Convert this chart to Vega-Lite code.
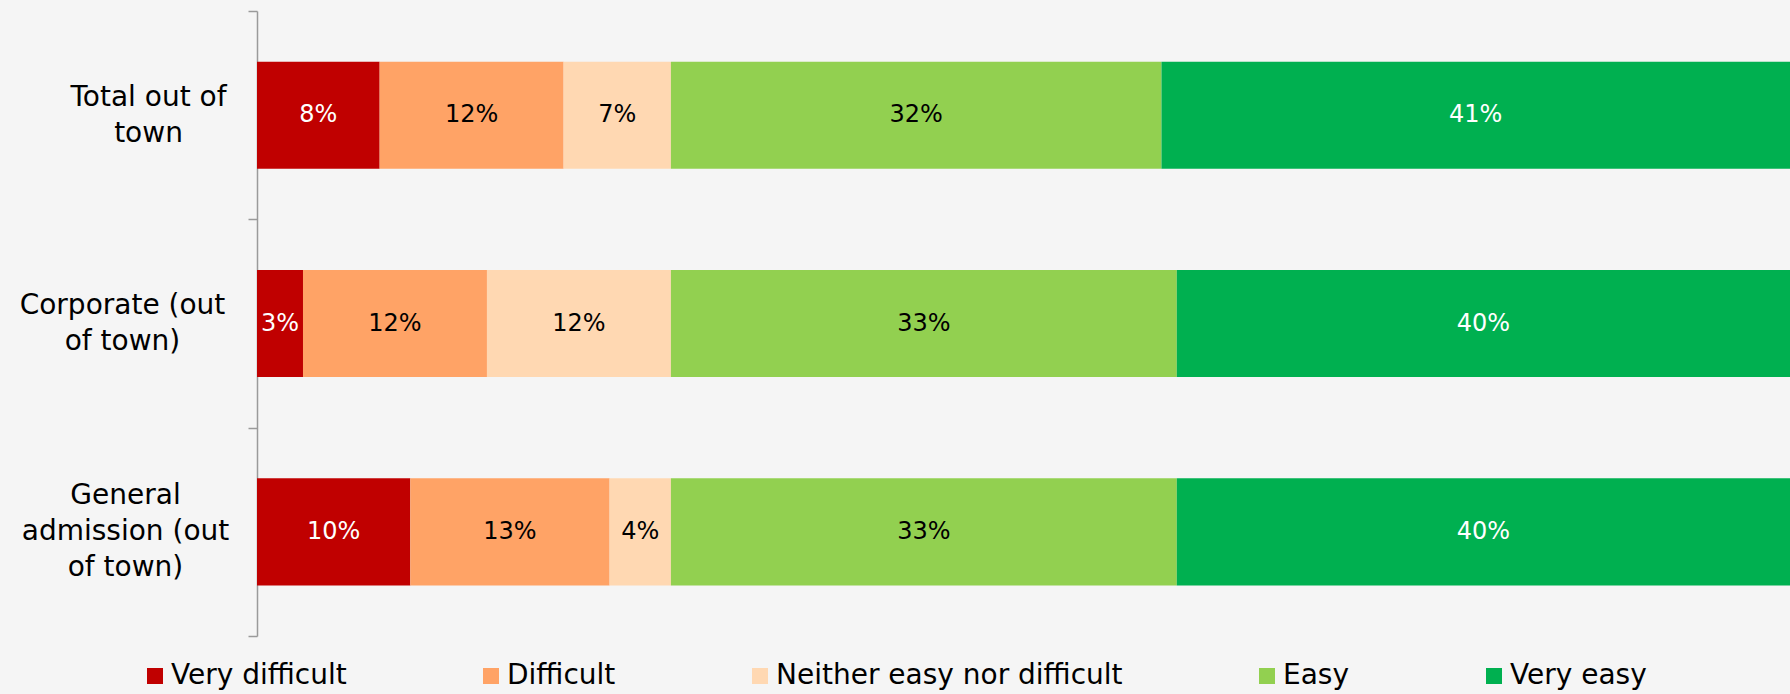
{
  "$schema": "https://vega.github.io/schema/vega-lite/v6.json",
  "width": 1533,
  "height": 625,
  "autosize": {"type": "none"},
  "padding": {"left": 257, "top": 11, "right": 0, "bottom": 58},
  "background": "#f5f5f5",
  "config": {
    "view": {"stroke": null},
    "font": "DejaVu Sans"
  },
  "data": {
    "values": [
      {"group": "Total out of town", "response": "Very difficult", "k": 1, "pct": 8, "label": "8%"},
      {"group": "Total out of town", "response": "Difficult", "k": 2, "pct": 12, "label": "12%"},
      {"group": "Total out of town", "response": "Neither easy nor difficult", "k": 3, "pct": 7, "label": "7%"},
      {"group": "Total out of town", "response": "Easy", "k": 4, "pct": 32, "label": "32%"},
      {"group": "Total out of town", "response": "Very easy", "k": 5, "pct": 41, "label": "41%"},
      {"group": "Corporate (out of town)", "response": "Very difficult", "k": 1, "pct": 3, "label": "3%"},
      {"group": "Corporate (out of town)", "response": "Difficult", "k": 2, "pct": 12, "label": "12%"},
      {"group": "Corporate (out of town)", "response": "Neither easy nor difficult", "k": 3, "pct": 12, "label": "12%"},
      {"group": "Corporate (out of town)", "response": "Easy", "k": 4, "pct": 33, "label": "33%"},
      {"group": "Corporate (out of town)", "response": "Very easy", "k": 5, "pct": 40, "label": "40%"},
      {"group": "General admission (out of town)", "response": "Very difficult", "k": 1, "pct": 10, "label": "10%"},
      {"group": "General admission (out of town)", "response": "Difficult", "k": 2, "pct": 13, "label": "13%"},
      {"group": "General admission (out of town)", "response": "Neither easy nor difficult", "k": 3, "pct": 4, "label": "4%"},
      {"group": "General admission (out of town)", "response": "Easy", "k": 4, "pct": 33, "label": "33%"},
      {"group": "General admission (out of town)", "response": "Very easy", "k": 5, "pct": 40, "label": "40%"}
    ]
  },
  "encoding": {
    "y": {
      "field": "group",
      "type": "nominal",
      "sort": ["Total out of town", "Corporate (out of town)", "General admission (out of town)"],
      "scale": {"paddingInner": 0, "paddingOuter": 0},
      "axis": {
        "title": null,
        "tickBand": "extent",
        "domainColor": "#9a9a9a",
        "domainWidth": 1.5,
        "tickColor": "#9a9a9a",
        "tickWidth": 1.5,
        "tickSize": 9,
        "labelFont": "DejaVu Sans",
        "labelFontSize": 28,
        "labelColor": "#000000",
        "labelAlign": "center",
        "labelBaseline": "middle",
        "labelLineHeight": 36,
        "labelLimit": 400,
        "minExtent": 257,
        "maxExtent": 257,
        "labelPadding": {
          "condition": [
            {"test": "datum.value == 'Total out of town'", "value": 100},
            {"test": "datum.value == 'Corporate (out of town)'", "value": 126}
          ],
          "value": 123
        },
        "labelOffset": {
          "condition": [
            {"test": "datum.value == 'General admission (out of town)'", "value": -36}
          ],
          "value": -18
        },
        "labelExpr": "datum.value == 'Total out of town' ? ['Total out of', 'town'] : datum.value == 'Corporate (out of town)' ? ['Corporate (out', 'of town)'] : datum.value == 'General admission (out of town)' ? ['General', 'admission (out', 'of town)'] : ''"
      }
    }
  },
  "layer": [
    {
      "mark": {"type": "bar", "height": {"band": 0.514}},
      "encoding": {
        "x": {
          "field": "pct",
          "type": "quantitative",
          "stack": "zero",
          "scale": {"domain": [0, 100], "nice": false},
          "axis": null
        },
        "color": {
          "field": "response",
          "type": "nominal",
          "sort": ["Very difficult", "Difficult", "Neither easy nor difficult", "Easy", "Very easy"],
          "scale": {
            "domain": ["Very difficult", "Difficult", "Neither easy nor difficult", "Easy", "Very easy"],
            "range": ["#C00000", "#FFA366", "#FFD8B2", "#92D050", "#00B050"]
          },
          "legend": {
            "title": null,
            "orient": "none",
            "direction": "horizontal",
            "legendX": -116,
            "legendY": 651,
            "symbolType": "square",
            "symbolSize": 256,
            "symbolStrokeWidth": 0,
            "symbolOpacity": 1,
            "labelFont": "DejaVu Sans",
            "labelFontSize": 28,
            "labelColor": "#000000",
            "labelOffset": 2,
            "labelLimit": 500,
            "columnPadding": 130
          }
        },
        "order": {"field": "k", "type": "quantitative"}
      }
    },
    {
      "mark": {"type": "text", "fontSize": 24, "font": "DejaVu Sans", "baseline": "middle", "align": "center"},
      "encoding": {
        "x": {"field": "pct", "type": "quantitative", "stack": "zero", "bandPosition": 0.5},
        "detail": {"field": "response", "type": "nominal"},
        "order": {"field": "k", "type": "quantitative"},
        "text": {"field": "label", "type": "nominal"},
        "color": {
          "condition": {"test": "datum.response == 'Very difficult' || datum.response == 'Very easy'", "value": "#ffffff"},
          "value": "#000000"
        }
      }
    }
  ]
}
